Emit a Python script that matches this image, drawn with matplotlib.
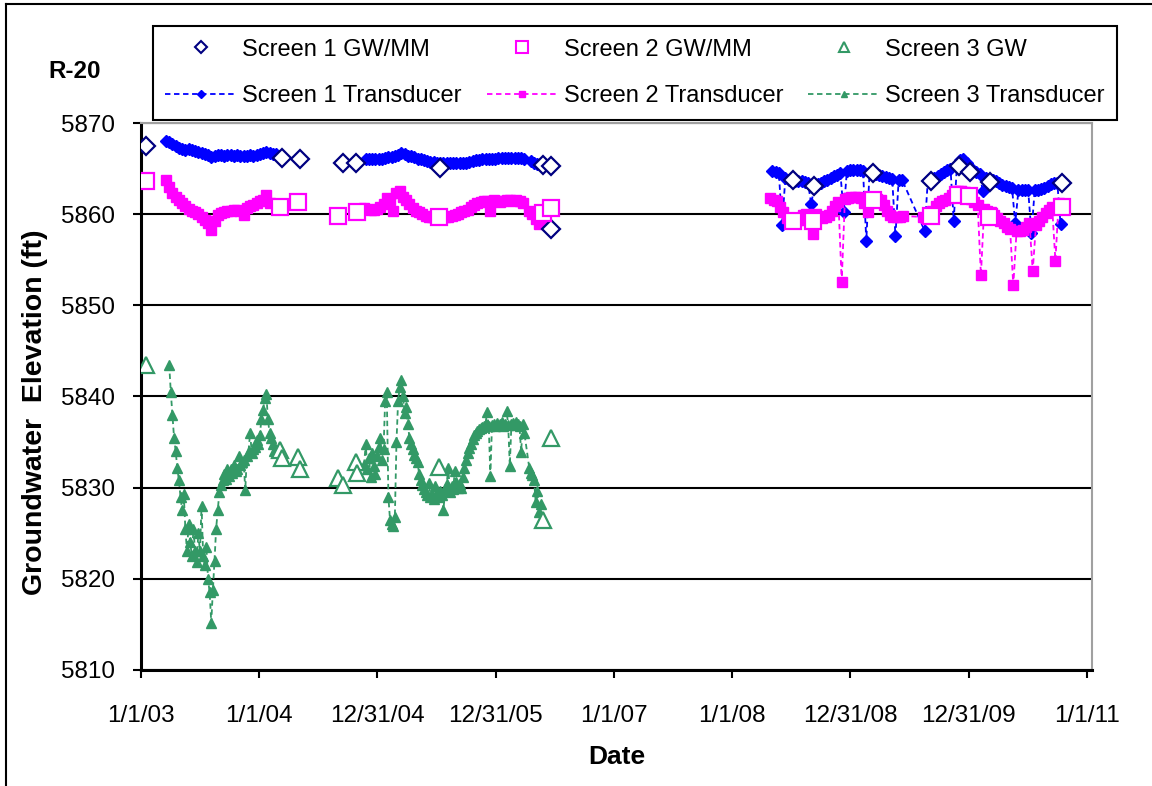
import numpy as np
import pandas as pd
import matplotlib
matplotlib.use('Agg')
import matplotlib.pyplot as plt
from matplotlib.lines import Line2D

plt.rcParams['font.family'] = ['Liberation Sans', 'DejaVu Sans']

nan = np.nan

# manual measurements (GW/MM)
s1_gw_dates = ['2003-01-16', '2004-03-11', '2004-05-05', '2004-09-15', '2004-10-25', '2005-07-11',
               '2006-05-28', '2006-06-19', '2006-06-19', '2008-07-07', '2008-09-10', '2009-03-11',
               '2009-09-06', '2009-12-02', '2010-01-05', '2010-03-07', '2010-10-15']
s1_gw = [5867.5, 5866.2, 5866.0, 5865.6, 5865.6, 5865.1, 5865.4, 5865.3, 5858.4, 5863.7,
         5863.1, 5864.5, 5863.6, 5865.3, 5864.6, 5863.5, 5863.4]

s2_gw_dates = ['2003-01-16', '2004-03-05', '2004-04-29', '2004-08-31', '2004-10-28', '2005-07-09',
               '2006-05-25', '2006-06-19', '2008-07-07', '2008-09-07', '2009-03-11', '2009-09-06',
               '2009-11-29', '2010-01-02', '2010-03-04', '2010-10-15']
s2_gw = [5863.6, 5860.8, 5861.3, 5859.8, 5860.2, 5859.7, 5860.1, 5860.7, 5859.3, 5859.3,
         5861.5, 5859.8, 5862.1, 5862.0, 5859.7, 5860.8]

s3_gw_dates = ['2003-01-16', '2004-03-05', '2004-03-11', '2004-04-29', '2004-05-05', '2004-08-31',
               '2004-09-15', '2004-10-25', '2004-10-28', '2005-07-09', '2006-06-19', '2006-05-28']
s3_gw = [5843.5, 5834.1, 5833.3, 5833.4, 5832.0, 5831.1, 5830.3, 5832.8, 5831.6, 5832.3,
         5835.4, 5826.5]

# transducer records: (first date, readings every 10 days)
s1_tr = [
    ('2003-03-19', [5868.0, 5867.9, 5867.7, 5867.5, 5867.3, 5867.2, 5867.0, 5867.1, 5867.0, 5866.9,
                    5866.8, 5866.7, 5866.6, 5866.5, 5866.3, 5866.4, 5866.5, 5866.5, 5866.4, 5866.5,
                    5866.5, 5866.4, 5866.5, 5866.4, 5866.4, 5866.4, 5866.5, 5866.4, 5866.5, 5866.6,
                    5866.7, 5866.8, 5866.7, 5866.6, 5866.6]),
    ('2004-11-25', [5866.1, 5866.1, 5866.0, 5866.0, 5866.0, 5866.1, 5866.2, 5866.3, 5866.3, 5866.4,
                    5866.5, 5866.7, 5866.6, 5866.4, 5866.4, 5866.3, 5866.1, 5866.0, 5865.9, 5865.8,
                    5865.7, 5865.7, 5865.6, 5865.6, 5865.6, 5865.6, 5865.6, 5865.6, 5865.6, 5865.6,
                    5865.6, 5865.6, 5865.7, 5865.8, 5865.9, 5865.9, 5866.0, 5866.0, 5866.1, 5866.1,
                    5866.1, 5866.2, 5866.2, 5866.2, 5866.2, 5866.2, 5866.2, 5866.2, 5866.2, 5866.0,
                    nan, 5865.8, 5865.6, 5865.5, 5865.4]),
    ('2008-05-04', [5864.7, 5864.6, 5864.5, 5858.8, 5864.0, 5863.8, 5863.7, 5863.6, 5863.6, 5863.6,
                    5863.5, 5863.4, 5861.1, 5863.2, 5863.3, 5863.4, 5863.6, 5863.8, 5864.0, 5864.2,
                    5864.3, 5864.5, 5860.2, 5864.7, 5864.8, 5864.8, 5864.9, 5864.8, 5864.7, 5857.1,
                    5864.6, 5864.5, 5864.4, 5864.3, 5864.2, 5864.1, 5864.0, 5863.9, 5857.6, 5863.8,
                    5863.8, nan, nan, nan, nan, nan, nan, 5858.2, 5863.7, 5863.8,
                    5864.0, 5864.2, 5864.4, 5864.6, 5864.8, 5865.0, 5859.3, 5865.4, 5865.9, 5866.1,
                    5865.6, 5865.1, 5864.8, 5864.6, 5864.4, 5862.5, 5864.0, 5863.9, 5863.7, 5863.6,
                    5863.4, 5863.2, 5863.1, 5863.0, 5862.9, 5859.0, 5862.7, 5862.7, 5862.6, 5862.6,
                    5857.9, 5862.6, 5862.7, 5862.8, 5862.9, 5863.1, 5863.3, 5863.4, 5863.4, 5858.9]),
]

s2_tr = [
    ('2003-03-19', [5863.8, 5863.0, 5862.3, 5861.9, 5861.6, 5861.2, 5860.9, 5860.6, 5860.3, 5860.2,
                    5860.0, 5859.7, 5859.4, 5859.0, 5858.3, 5859.3, 5859.9, 5860.1, 5860.2, 5860.3,
                    5860.4, 5860.5, 5860.5, 5860.4, 5859.9, 5860.7, 5860.9, 5861.0, 5861.2, 5861.4,
                    5861.6, 5862.1, 5861.2]),
    ('2004-11-20', [5860.7, 5860.6, 5860.5, 5860.5, 5860.6, 5860.8, 5861.1, 5861.8, 5861.5, 5860.4,
                    5862.3, 5862.5, 5861.9, 5861.6, 5861.1, 5860.7, 5860.4, 5860.2, 5860.0, 5859.8,
                    5859.7, 5859.7, 5859.6, 5859.7, 5859.7, 5859.7, 5859.7, 5859.8, 5859.9, 5860.0,
                    5860.2, 5860.3, 5860.5, 5860.8, 5861.0, 5861.2, 5861.3, 5861.4, 5861.4, 5860.4,
                    5861.5, 5861.4, 5861.3, 5861.4, 5861.5, 5861.5, 5861.4, 5861.5, 5861.4, 5861.2,
                    nan, 5860.3, 5860.0, 5859.5, 5858.9, 5859.6]),
    ('2008-04-28', [5861.8, 5861.6, 5861.4, 5860.8, 5860.2, 5859.6, 5859.4, 5859.3, 5859.2, 5859.4,
                    5859.9, 5860.0, 5859.8, 5857.8, 5860.0, 5859.8, 5859.6, 5859.7, 5859.9, 5860.4,
                    5860.9, 5861.3, 5852.6, 5861.7, 5861.8, 5861.9, 5861.9, 5861.9, 5861.8, 5861.2,
                    5860.2, 5861.3, 5861.5, 5861.7, 5861.6, 5861.0, 5860.4, 5859.9, 5859.7, 5859.7,
                    5859.7, 5859.8, nan, nan, nan, nan, nan, 5859.7, 5859.6, 5859.9,
                    5860.3, 5860.9, 5861.2, 5861.4, 5861.6, 5861.8, 5862.1, 5862.5, 5862.5, 5862.5,
                    5862.4, 5862.0, 5861.7, 5861.3, 5861.0, 5853.3, 5860.6, 5860.4, 5860.2, 5859.9,
                    5859.6, 5859.3, 5859.0, 5858.6, 5858.4, 5852.2, 5858.1, 5858.2, 5858.3, 5858.6,
                    5859.0, 5853.8, 5858.8, 5859.2, 5859.7, 5860.1, 5860.5, 5860.8, 5854.9, 5861.2]),
]

# screen 3 logged every 5 days
s3_tr = [
    ('2003-03-29', [5843.5, 5840.5, 5838.0, 5835.5, 5834.0, 5832.2, 5830.8, 5829.0, 5827.5, 5829.3,
                    5825.5, 5823.0, 5826.0, 5824.0, 5822.5, 5825.5, 5823.0, 5821.8, 5825.0, 5823.0,
                    5828.0, 5822.5, 5821.5, 5823.5, 5820.0, 5818.5, 5815.2, 5818.8, 5822.0, 5825.5,
                    5827.5, 5829.5, 5830.3, 5830.8, 5831.5, 5831.0, 5832.0, 5831.3, 5832.0, 5831.6,
                    5832.5, 5831.8, 5832.0, 5833.5, 5832.5, 5832.8, 5833.0, 5829.7, 5833.5, 5834.0,
                    5836.0, 5833.8, 5834.2, 5834.5, 5835.2, 5834.8, 5835.8, 5837.5, 5838.5, 5839.8,
                    5840.3, 5837.5, 5836.0, 5835.5, 5834.8, 5834.0]),
    ('2004-11-20', [5832.5, 5834.8, 5832.0, 5833.3, 5831.2, 5833.8, 5832.4, 5831.5, 5833.5, 5834.5,
                    5835.5, 5833.0, 5834.2, 5839.5, 5840.5, 5829.0, 5826.5, 5826.0, 5825.8, 5826.8,
                    5835.0, 5839.5, 5841.0, 5841.8, 5840.0, 5838.2, 5838.8, 5837.0, 5835.5, 5834.8,
                    5834.2, 5833.6, 5833.2, 5832.8, 5831.5, 5830.8, 5830.3, 5829.8, 5829.5, 5829.2,
                    5830.5, 5829.0, 5829.3, 5828.8, 5830.2, 5829.4, 5829.0, 5829.6, 5829.2, 5827.5,
                    5829.8, 5830.4, 5832.2, 5829.5, 5830.2, 5829.8, 5831.8, 5830.6, 5830.0, 5830.4,
                    5830.0, 5831.2, 5832.2, 5833.0, 5833.8, 5834.3, 5834.8, 5835.3, 5835.8, 5836.0,
                    5836.2, 5836.4, 5836.5, 5836.6, 5836.8, 5837.0, 5838.3, 5836.8, 5831.3, 5836.9,
                    5837.0, 5836.8, 5837.1, 5836.9, 5837.0, 5837.2, 5836.8, 5837.0, 5838.4, 5836.9,
                    5832.4, 5837.0, 5837.1, 5836.9, 5837.2, 5837.0, 5836.8, 5833.9, 5837.0, 5836.0,
                    nan, nan, 5832.2, 5831.6, 5831.4, 5830.8, 5828.4, 5829.6, 5827.3, 5828.2]),
]

tick_dates = ['2003-01-01', '2004-01-01', '2004-12-31', '2005-12-31', '2007-01-01',
              '2008-01-01', '2008-12-31', '2009-12-31', '2011-01-01']
tick_labels = ['1/1/03', '1/1/04', '12/31/04', '12/31/05', '1/1/07',
               '1/1/08', '12/31/08', '12/31/09', '1/1/11']


def join_segments(segments, step):
    xs, ys = [], []
    for start, vals in segments:
        d = pd.date_range(start, periods=len(vals), freq=step)
        v = np.array(vals, dtype=float)
        ok = ~np.isnan(v)
        xs += list(d[ok]) + [d[-1]]
        ys += list(v[ok]) + [nan]
    return xs, ys


fig = plt.figure(figsize=(11.52, 7.86), dpi=100)
ax = fig.add_axes([0.1224, 0.1476, 0.8255, 0.6959])

blue, magenta, green, navy = '#0000FF', '#FF00FF', '#339966', '#000080'
dash = (0, (3, 2))

x, y = join_segments(s1_tr, '10D')
h4, = ax.plot(x, y, ls=dash, lw=1.3, color=blue, marker='D', ms=6, mfc=blue, mec=blue, zorder=3)
x, y = join_segments(s2_tr, '10D')
h5, = ax.plot(x, y, ls=dash, lw=1.3, color=magenta, marker='s', ms=6.5, mfc=magenta, mec=magenta, zorder=3)
x, y = join_segments(s3_tr, '5D')
h6, = ax.plot(x, y, ls=dash, lw=1.3, color=green, marker='^', ms=7.5, mfc=green, mec=green, zorder=3)

h1, = ax.plot(pd.to_datetime(s1_gw_dates), s1_gw, ls='none', marker='D', ms=9, mfc='white',
              mec=navy, mew=1.6, zorder=5)
h2, = ax.plot(pd.to_datetime(s2_gw_dates), s2_gw, ls='none', marker='s', ms=11, mfc='white',
              mec=magenta, mew=1.6, zorder=5)
h3, = ax.plot(pd.to_datetime(s3_gw_dates), s3_gw, ls='none', marker='^', ms=11, mfc='white',
              mec=green, mew=1.6, zorder=5)

ax.set_ylim(5810, 5870)
ax.set_yticks(range(5810, 5871, 10))
ax.set_xlim(pd.Timestamp('2003-01-01'), pd.Timestamp('2011-01-16'))
ax.set_xticks(pd.to_datetime(tick_dates))
ax.set_xticklabels(tick_labels)

ax.yaxis.grid(True, color='black', lw=1.5)
ax.set_axisbelow(True)
for s in ['left', 'bottom']:
    ax.spines[s].set_color('black')
    ax.spines[s].set_linewidth(2.2)
for s in ['top', 'right']:
    ax.spines[s].set_color('#A0A0A0')
    ax.spines[s].set_linewidth(1.5)
ax.tick_params(axis='both', direction='out', length=6, width=1.5, labelsize=17.5)
ax.tick_params(axis='x', pad=19)
ax.tick_params(axis='y', pad=13)

# smaller markers for the legend keys
k1 = Line2D([], [], ls='none', marker='D', ms=6.5, mfc='white', mec=navy, mew=1.5)
k2 = Line2D([], [], ls='none', marker='s', ms=8, mfc='white', mec=magenta, mew=1.5)
k3 = Line2D([], [], ls='none', marker='^', ms=7.5, mfc='white', mec=green, mew=1.5)
k4 = Line2D([], [], ls=dash, lw=1.3, color=blue, marker='D', ms=4.5)
k5 = Line2D([], [], ls=dash, lw=1.3, color=magenta, marker='s', ms=4.5)
k6 = Line2D([], [], ls=dash, lw=1.3, color=green, marker='^', ms=5)
labels = ['Screen 1 GW/MM', 'Screen 1 Transducer', 'Screen 2 GW/MM', 'Screen 2 Transducer',
          'Screen 3 GW', 'Screen 3 Transducer']
leg = fig.legend([k1, k4, k2, k5, k3, k6], labels, ncol=3, numpoints=1, mode='expand',
                 loc='upper left', bbox_to_anchor=(0.1328, 0.8575, 0.8368, 0.109),
                 bbox_transform=fig.transFigure, fontsize=17, frameon=True, fancybox=False,
                 edgecolor='black', framealpha=1, handlelength=3.0, handletextpad=0.25,
                 labelspacing=1.05, borderaxespad=0, borderpad=0.52, columnspacing=0.4)
leg.get_frame().set_linewidth(1.5)

fig.text(48 / 1152, 1 - 72 / 786, 'R-20', fontsize=17.5, fontweight='bold', va='center', ha='left')
fig.text(35 / 1152, 1 - 412 / 786, 'Groundwater  Elevation (ft)', fontsize=20.5, fontweight='bold',
         rotation=90, va='center', ha='center')
fig.text(617 / 1152, 1 - 757 / 786, 'Date', fontsize=19, fontweight='bold', va='center', ha='center')

fig.add_artist(Line2D([6 / 1152, 6 / 1152], [0, 1 - 4 / 786], transform=fig.transFigure,
                      color='black', lw=1.5))
fig.add_artist(Line2D([6 / 1152, 1], [1 - 4 / 786, 1 - 4 / 786], transform=fig.transFigure,
                      color='black', lw=1.5))

fig.savefig('out.png', dpi=100)
